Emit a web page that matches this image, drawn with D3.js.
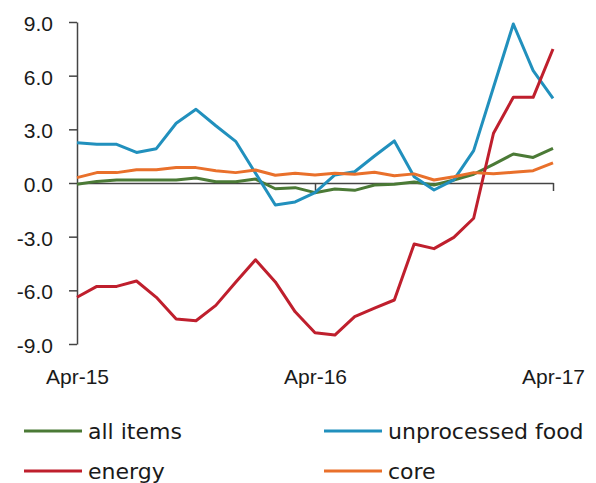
<!DOCTYPE html>
<html>
<head>
<meta charset="utf-8">
<script src="https://cdn.jsdelivr.net/npm/d3@7"></script>
<style>
  body { margin: 0; background: #fff; }
  svg { display: block; font-family: "DejaVu Sans", sans-serif; }
</style>
</head>
<body>
<svg id="chart" width="596" height="483"></svg>
<script>
// monthly, Apr-15 .. Apr-17
const tickIndex = [0, 12, 24];
const tickLabels = ['Apr-15', 'Apr-16', 'Apr-17'];
const yTicks = [-9, -6, -3, 0, 3, 6, 9];

const allItems = [-0.07, 0.09, 0.17, 0.17, 0.17, 0.17, 0.28, 0.07, 0.07, 0.22, -0.32, -0.26,
  -0.54, -0.34, -0.41, -0.11, -0.07, 0.06, -0.11, 0.17, 0.49, 1.04, 1.62, 1.43, 1.94];
const unprocessed = [2.25, 2.16, 2.16, 1.71, 1.92, 3.34, 4.12, 3.2, 2.33, 0.55, -1.23, -1.06,
  -0.54, 0.45, 0.63, 1.51, 2.35, 0.35, -0.39, 0.17, 1.81, 5.35, 8.89, 6.28, 4.73];
const energy = [-6.39, -5.78, -5.78, -5.48, -6.39, -7.6, -7.7, -6.84, -5.55, -4.29, -5.53, -7.2,
  -8.37, -8.5, -7.47, -7.0, -6.54, -3.41, -3.67, -3.04, -1.97, 2.78, 4.79, 4.79, 7.49];
const core = [0.3, 0.58, 0.58, 0.74, 0.74, 0.86, 0.86, 0.69, 0.58, 0.73, 0.43, 0.54,
  0.45, 0.54, 0.49, 0.6, 0.41, 0.51, 0.17, 0.35, 0.58, 0.52, 0.6, 0.69, 1.12];

const series = [
  { name: 'all items', color: '#4b7a36', values: allItems },
  { name: 'unprocessed food', color: '#2190bd', values: unprocessed },
  { name: 'energy', color: '#bf1f2d', values: energy },
  { name: 'core', color: '#e9702b', values: core },
];

const svg = d3.select('#chart');
const x = d3.scaleLinear().domain([0, 24]).range([77, 553]);
const y = d3.scaleLinear().domain([-9, 9]).range([344, 22]);

const yAxis = svg.append('g')
  .attr('transform', `translate(${x(0)},0)`)
  .call(d3.axisLeft(y).tickValues(yTicks).tickFormat((d) => d.toFixed(1))
    .tickSize(8).tickSizeOuter(0).tickPadding(16));
yAxis.select('.domain').attr('stroke', '#444').attr('stroke-width', 1.5);
yAxis.selectAll('.tick line').attr('stroke', '#444').attr('stroke-width', 1.5);
yAxis.selectAll('.tick text').attr('font-size', 21).attr('fill', '#1a1a1a')
  .attr('font-family', null).attr('dy', '0.4em');

const zeroAxis = svg.append('g')
  .attr('transform', `translate(0,${y(0)})`)
  .call(d3.axisBottom(x).tickValues(tickIndex.slice(1)).tickFormat('')
    .tickSize(8).tickSizeOuter(0));
zeroAxis.select('.domain').attr('stroke', '#444').attr('stroke-width', 1.5);
zeroAxis.selectAll('.tick line').attr('stroke', '#444').attr('stroke-width', 1.5);

const labelAxis = svg.append('g')
  .attr('transform', `translate(0,${y(-9) + 25})`)
  .call(d3.axisBottom(x).tickValues(tickIndex).tickFormat((d, i) => tickLabels[i])
    .tickSize(0).tickPadding(0));
labelAxis.select('.domain').remove();
labelAxis.selectAll('.tick text').attr('font-size', 21).attr('fill', '#1a1a1a')
  .attr('font-family', null);

const line = d3.line()
  .x((d, i) => x(i))
  .y((d) => y(d));

svg.append('g')
  .selectAll('path')
  .data(series)
  .join('path')
  .attr('fill', 'none')
  .attr('stroke', (d) => d.color)
  .attr('stroke-width', 3)
  .attr('stroke-linejoin', 'round')
  .attr('d', (d) => line(d.values));

// legend, two columns
const legend = svg.append('g')
  .selectAll('g')
  .data(series)
  .join('g')
  .attr('transform', (d, i) => `translate(${i % 2 ? 324 : 24},${i < 2 ? 431 : 471})`);
legend.append('line')
  .attr('x1', 0).attr('x2', 58)
  .attr('stroke', (d) => d.color)
  .attr('stroke-width', 3);
legend.append('text')
  .attr('x', 64)
  .attr('dy', '0.35em')
  .attr('font-size', 22)
  .attr('fill', '#1a1a1a')
  .text((d) => d.name);
</script>
</body>
</html>
